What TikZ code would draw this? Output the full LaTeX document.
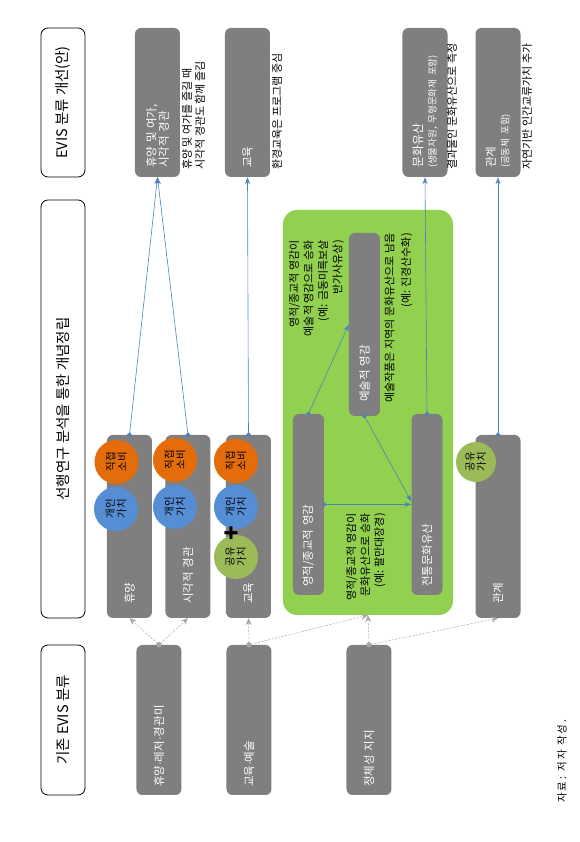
\documentclass[tikz,border=0pt]{standalone}
\usepackage{fontspec}
\setmainfont{Noto Sans CJK KR}
\newfontfamily\dotfont{Liberation Sans}
\newcommand{\mdot}{{\dotfont\char"00B7}}
\usetikzlibrary{arrows.meta,calc}
\definecolor{boxgray}{HTML}{7F7F7F}
\definecolor{valorange}{HTML}{E46C0A}
\definecolor{valblue}{HTML}{558ED5}
\definecolor{valgreen}{HTML}{9BBB59}
\definecolor{zonegreen}{HTML}{92D050}
\definecolor{lineblue}{HTML}{4F81BD}
\definecolor{dashgray}{HTML}{A6A6A6}

\begin{document}
\begin{tikzpicture}[x=1pt,y=1pt,rotate=90,transform shape,
    hdr/.style={draw, line width=0.8pt, rounded corners=7pt, minimum height=44pt,
      font=\fontsize{14.5}{16}\selectfont},
    gbox/.style={fill=boxgray, rounded corners=6pt, text=white, align=left,
      minimum height=45pt, font=\fontsize{11.5}{12.5}\selectfont},
    obox/.style={gbox, inner xsep=8pt, text width=134pt},
    mbox/.style={gbox, inner xsep=14pt, text width=155pt},
    zbox/.style={gbox, inner xsep=8pt, text width=165pt, minimum height=31pt},
    nbox/.style={gbox, inner xsep=9pt, text width=131pt},
    val/.style={circle, minimum size=44pt, inner sep=0pt, align=center,
      font=\fontsize{10.5}{11.5}\selectfont},
    note/.style={inner sep=0pt, font=\fontsize{11}{13}\selectfont},
    bline/.style={draw=lineblue, line width=0.6pt, shorten <=-2.2pt,
      {Circle[length=4.5pt]}-{Stealth[length=7pt,width=5pt]}},
    dline/.style={draw=dashgray, line width=0.5pt, dash pattern=on 2pt off 1.5pt,
      shorten <=-2.5pt,
      {Circle[length=5pt]}-{Stealth[length=7pt,width=6pt,inset=2.5pt]}}]
  \useasboundingbox (0,0) rectangle (842,579);

  % headers
  \node[hdr, minimum width=150pt] (hold) at (122,516) {기존 EVIS 분류};
  \node[hdr, minimum width=418pt] (hres) at (433,516) {선행연구 분석을 통한 개념정립};
  \node[hdr, minimum width=149pt] (hnew) at (739.5,516) {EVIS 분류 개선(안)};

  % existing classes
  \node[obox] (o1) at (122,420) {휴양\mdot 레저\mdot 경관미};
  \node[obox] (o2) at (122,330) {교육\mdot 예술};
  \node[obox] (o3) at (122,210) {정체성 지지};

  % concepts
  \node[mbox] (m1) at (315.5,449.5) {휴양};
  \node[mbox] (m2) at (315.5,391) {시각적 경관};
  \node[mbox] (m3) at (315.5,330.5) {교육};
  \node[mbox] (m4) at (315.5,81) {관계};

  \node[fill=zonegreen, rounded corners=14pt, minimum width=405pt,
    minimum height=170pt] (zone) at (429.5,211) {};
  \node[zbox] (z1) at (337.5,270.5) {영적/종교적 영감};
  \node[zbox, inner xsep=14pt, text width=155pt] (z2) at (517.5,214.5) {예술적 영감};
  \node[zbox] (z3) at (337.5,152) {전통문화유산};

  \node[val, fill=valorange] (c1) at (380,462.5) {직접\\소비};
  \node[val, fill=valblue] (c2) at (333,463) {개인\\가치};
  \node[val, fill=valorange] (c3) at (382,404) {직접\\소비};
  \node[val, fill=valblue] (c4) at (335,404) {개인\\가치};
  \node[val, fill=valorange] (c5) at (381,343) {직접\\소비};
  \node[val, fill=valblue] (c6) at (335,343) {개인\\가치};
  \node[val, fill=valgreen] (c7) at (285,343) {공유\\가치};
  \node[val, fill=valgreen, minimum size=40pt] (c8) at (380,103) {공유\\가치};
  \node[inner sep=0pt, font=\fontsize{24}{24}\selectfont\bfseries] (plus) at (309,346) {+};

  \node[note, anchor=east, align=right, font=\fontsize{11}{14.5}\selectfont] (t1) at (602,262.5)
    {영적/종교적 영감이\\예술적 영감으로 승화\\(예: 금동미륵보살\\반가사유상)};
  \node[note, anchor=east, align=right, font=\fontsize{11}{16.5}\selectfont] (t2) at (609,180.5)
    {예술작품은 지역의 문화유산으로 남음\\(예: 진경산수화)};
  \node[note, anchor=east, align=right, font=\fontsize{11}{14}\selectfont] (t3) at (329,213)
    {영적/종교적 영감이\\문화유산으로 승화\\(예: 팔만대장경)};

  % improved classes
  \node[nbox] (n1) at (739.5,421.5) {휴양 및 여가,\\시각적 경관};
  \node[nbox] (n2) at (739.5,331.5) {교육};
  \node[nbox] (n3) at (739.5,154)
    {{\fontsize{12}{13}\selectfont 문화유산}\\[1pt]{\fontsize{9.5}{10}\selectfont (생물자원, 무형문화재 포함)}};
  \node[nbox] (n4) at (739.5,81)
    {관계\\[1pt]{\fontsize{9.5}{10}\selectfont (공동체 포함)}};

  \node[note, anchor=west, align=left] (a1) at (672,385.5)
    {휴양 및 여가를 즐길 때\\시각적 경관도 함께 즐김};
  \node[note, anchor=west] (a2) at (672,302) {환경교육은 프로그램 중심};
  \node[note, anchor=west] (a3) at (672,127) {결과물인 문화유산으로 측정};
  \node[note, anchor=west] (a4) at (672,52) {자연기반 인간교류가치 추가};

  \node[anchor=west, inner sep=0pt, font=\fontsize{10.5}{12}\selectfont\addfontfeature{LetterSpace=18}] (src) at (39,17)
    {자료: 저자 작성.};

  % connectors
  \draw[dline] (o1.east) to (m1.west);
  \draw[dline] (o1.east) to (m2.west);
  \draw[dline] (o2.east) to (m3.west);
  \draw[dline] (o2.east) to (zone.west);
  \draw[dline] (o3.east) to (zone.west);
  \draw[dline] (o3.east) to (m4.west);

  \draw[bline] (m1.east) to (n1.west);
  \draw[bline] (m2.east) to (n1.west);
  \draw[bline] (m3.east) to (n2.west);
  \draw[bline] (z3.east) to (n3.west);
  \draw[bline] (m4.east) to (n4.west);
  \draw[bline] (z1.east) to (z2.north);
  \draw[bline] (z2.west) to ([xshift=3pt]z3.north);
  \draw[bline] (z1.south) to (z3.north);
\end{tikzpicture}
\end{document}
